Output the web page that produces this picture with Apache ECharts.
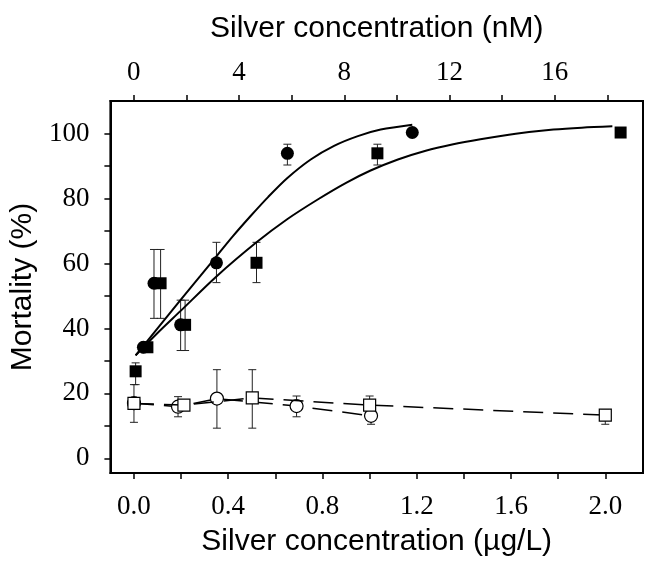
<!DOCTYPE html>
<html><head><meta charset="utf-8">
<script src="https://cdn.jsdelivr.net/npm/echarts@6/dist/echarts.min.js"></script>
<style>html,body{margin:0;padding:0;background:#fff}#c{width:645px;height:562px}</style>
</head><body><div id="c"></div>
<script>
// ---- axis ticks / labels ----
const bottomTicks = [0, 0.2, 0.4, 0.6, 0.8, 1.0, 1.2, 1.4, 1.6, 1.8, 2.0];
const bottomLabels = [0, 0.4, 0.8, 1.2, 1.6, 2.0];
const topTicks = [0, 2, 4, 6, 8, 10, 12, 14, 16, 18];
const topLabels = [0, 4, 8, 12, 16];
const yTicks = [0, 10, 20, 30, 40, 50, 60, 70, 80, 90, 100];
const yLabels = [0, 20, 40, 60, 80, 100];

// ---- filled circles ----
const fcX  = [0.04, 0.085, 0.198, 0.35, 0.651, 1.181];
const fcY  = [34.2, 53.9, 41.1, 60.2, 93.9, 100.3];
const fcLo = [34.2, 43.1, 33.2, 54.1, 90.3, 100.3];
const fcHi = [34.2, 64.3, 48.7, 66.5, 96.7, 100.3];

// ---- filled squares ----
const fsX  = [0.007, 0.057, 0.113, 0.217, 0.52, 1.033, 2.065];
const fsY  = [26.8, 34.2, 53.9, 41.1, 60.2, 93.9, 100.3];
const fsLo = [22.7, 34.2, 43.1, 33.2, 54.1, 90.3, 100.3];
const fsHi = [29.4, 34.2, 64.3, 48.7, 66.5, 96.7, 100.3];

// ---- open circles ----
const ocX  = [0.0, 0.187, 0.352, 0.69, 1.006];
const ocY  = [17.0, 15.9, 18.4, 16.1, 13.1];
const ocLo = [17.0, 12.8, 9.3, 12.8, 10.5];
const ocHi = [17.0, 19.0, 27.3, 19.2, 16.0];

// ---- open squares ----
const osX  = [0.0, 0.212, 0.502, 1.0, 2.0];
const osY  = [16.9, 16.4, 18.6, 16.4, 13.3];
const osLo = [11.1, 16.4, 9.3, 13.6, 10.5];
const osHi = [22.7, 16.4, 27.3, 19.2, 15.0];

// ---- fitted curves ----
const fitCX = [0.007, 0.1, 0.198, 0.28, 0.35, 0.42, 0.495, 0.57, 0.651, 0.75, 0.849, 0.95, 1.047, 1.181];
const fitCY = [31.7, 40.0, 48.8, 56.0, 62.2, 68.4, 74.6, 80.5, 86.3, 92.0, 96.2, 99.2, 101.2, 102.7];
const fitSX = [0.007, 0.1, 0.198, 0.35, 0.52, 0.65, 0.778, 0.9, 1.004, 1.12, 1.238, 1.35, 1.47, 1.62, 1.78, 1.9, 2.03];
const fitSY = [31.7, 38.6, 45.4, 56.0, 66.5, 73.6, 79.6, 84.8, 88.6, 92.0, 94.7, 96.6, 98.2, 99.9, 101.2, 101.8, 102.2];

const zip = (a, b) => a.map((v, i) => [v, b[i]]);
const zip3 = (a, b, c) => a.map((v, i) => [v, b[i], c[i]]);

const serif = '"Liberation Serif", "Times New Roman", serif';
const sans = '"Liberation Sans", Arial, sans-serif';
const BLACK = '#000';

function errRender(params, api) {
  const x = api.value(0), lo = api.value(1), hi = api.value(2);
  if (hi - lo < 0.01) return null;
  const p1 = api.coord([x, lo]), p2 = api.coord([x, hi]);
  const w = 4;
  const st = { stroke: '#222', lineWidth: 1 };
  return { type: 'group', children: [
    { type: 'line', shape: { x1: p1[0], y1: p1[1], x2: p2[0], y2: p2[1] }, style: st },
    { type: 'line', shape: { x1: p1[0] - w, y1: p1[1], x2: p1[0] + w, y2: p1[1] }, style: st },
    { type: 'line', shape: { x1: p2[0] - w, y1: p2[1], x2: p2[0] + w, y2: p2[1] }, style: st }
  ]};
}
function errSeries(x, lo, hi) {
  return { type: 'custom', renderItem: errRender, data: zip3(x, lo, hi),
    encode: { x: 0, y: [1, 2] }, z: 1, silent: true };
}

const axisLineStyle = { color: BLACK, width: 2 };
const chart = echarts.init(document.getElementById('c'), null, { renderer: 'canvas' });
chart.setOption({
  animation: false,
  backgroundColor: '#fff',
  grid: { left: 110, right: 2, top: 101, bottom: 87, show: true, borderColor: BLACK, borderWidth: 2, backgroundColor: 'transparent' },
  xAxis: [
    {
      type: 'value', position: 'bottom', min: -0.1, max: 2.16,
      name: 'Silver concentration (µg/L)', nameLocation: 'middle', nameGap: 54,
      nameTextStyle: { fontFamily: sans, fontSize: 30, color: BLACK, lineHeight: 30 },
      axisLine: { show: true, onZero: false, lineStyle: axisLineStyle },
      axisTick: { show: true, inside: false, length: 6, lineStyle: { color: BLACK, width: 1.5 }, customValues: bottomTicks },
      axisLabel: { customValues: bottomLabels, formatter: v => v.toFixed(1), margin: 20,
        fontFamily: serif, fontSize: 27, color: BLACK, lineHeight: 27 },
      splitLine: { show: false }
    },
    {
      type: 'value', position: 'top', min: -0.885, max: 19.35,
      name: 'Silver concentration (nM)', nameLocation: 'middle', nameGap: 57,
      nameTextStyle: { fontFamily: sans, fontSize: 30, color: BLACK, lineHeight: 30 },
      axisLine: { show: true, onZero: false, lineStyle: axisLineStyle },
      axisTick: { show: true, inside: false, length: 6, lineStyle: { color: BLACK, width: 1.5 }, customValues: topTicks },
      axisLabel: { customValues: topLabels, formatter: v => String(v), margin: 15,
        fontFamily: serif, fontSize: 27, color: BLACK, lineHeight: 27 },
      splitLine: { show: false }
    }
  ],
  yAxis: {
    type: 'value', min: -4.5, max: 110,
    name: 'Mortality (%)', nameLocation: 'middle', nameGap: 63,
    nameTextStyle: { fontFamily: sans, fontSize: 30, color: BLACK, lineHeight: 30 },
    axisLine: { show: true, onZero: false, lineStyle: axisLineStyle },
    axisTick: { show: true, inside: false, length: 6, lineStyle: { color: BLACK, width: 1.5 }, customValues: yTicks },
    axisLabel: { customValues: yLabels, margin: 21, fontFamily: serif, fontSize: 27, color: BLACK },
    splitLine: { show: false }
  },
  series: [
    errSeries(fcX, fcLo, fcHi),
    errSeries(fsX, fsLo, fsHi),
    errSeries(ocX, ocLo, ocHi),
    errSeries(osX, osLo, osHi),
    { type: 'line', data: zip(fitCX, fitCY), smooth: 0.3, showSymbol: false, symbol: 'none',
      lineStyle: { color: BLACK, width: 2 }, z: 2, silent: true },
    { type: 'line', data: zip(fitSX, fitSY), smooth: 0.3, showSymbol: false, symbol: 'none',
      lineStyle: { color: BLACK, width: 2 }, z: 2, silent: true },
    { type: 'line', data: zip(ocX, ocY), symbol: 'circle', symbolSize: 13,
      lineStyle: { color: BLACK, width: 1.5, type: [20, 10] },
      itemStyle: { color: '#fff', borderColor: BLACK, borderWidth: 1.2 }, z: 3 },
    { type: 'line', data: zip(osX, osY), symbol: 'rect', symbolSize: 12,
      lineStyle: { color: BLACK, width: 1.5, type: [20, 10] },
      itemStyle: { color: '#fff', borderColor: BLACK, borderWidth: 1.2 }, z: 4 },
    { type: 'scatter', data: zip(fcX, fcY), symbol: 'circle', symbolSize: 13,
      itemStyle: { color: BLACK, opacity: 1 }, z: 5 },
    { type: 'scatter', data: zip(fsX, fsY), symbol: 'rect', symbolSize: 12,
      itemStyle: { color: BLACK, opacity: 1 }, z: 5 }
  ]
});
</script></body></html>
